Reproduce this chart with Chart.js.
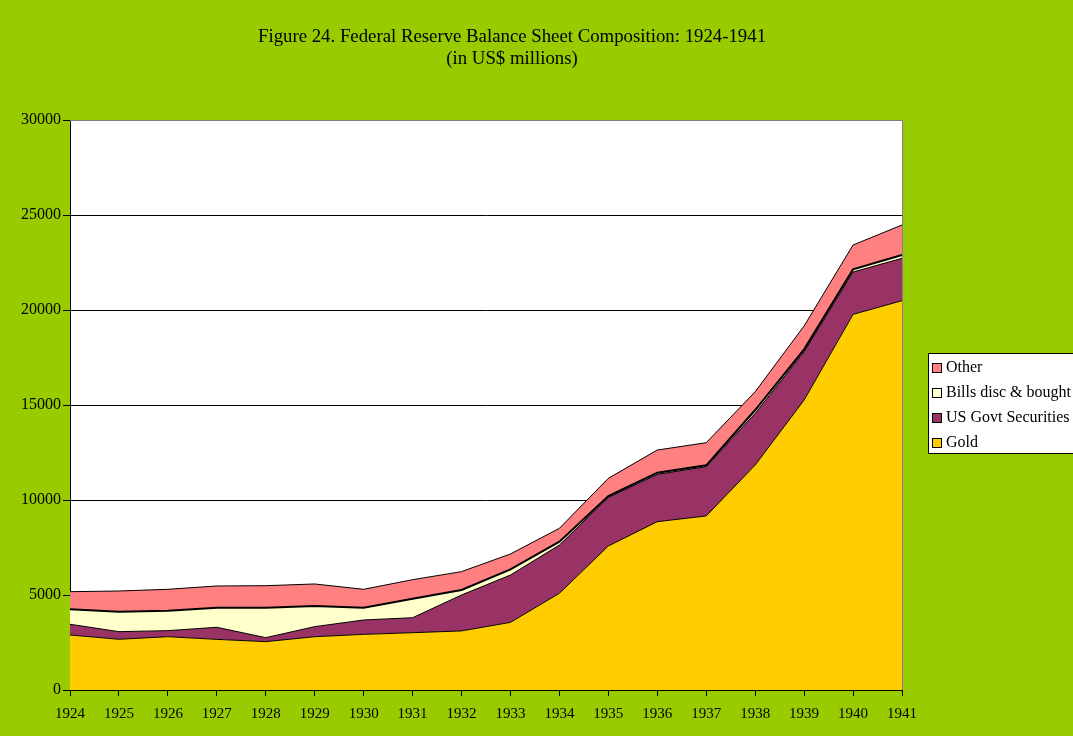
<!DOCTYPE html>
<html>
<head>
<meta charset="utf-8">
<script src="https://cdn.jsdelivr.net/npm/chart.js@4.4.1/dist/chart.umd.min.js"></script>
<style>
html, body { margin: 0; padding: 0; background: #99cc00; }
#contenedor { width: 1073px; height: 736px; }
</style>
</head>
<body>
<div id="contenedor"><canvas id="myChart" width="1073" height="736"></canvas></div>
<script>
// Datos (millones de US$)
var anios = ['1924', '1925', '1926', '1927', '1928', '1929', '1930', '1931', '1932',
             '1933', '1934', '1935', '1936', '1937', '1938', '1939', '1940', '1941'];
var oro = [2895, 2670, 2805, 2665, 2545, 2805, 2930, 3015, 3110,
           3560, 5090, 7580, 8860, 9160, 11840, 15260, 19770, 20490];
var bonosGobierno = [565, 400, 320, 635, 210, 530, 755, 790, 1890,
                     2490, 2540, 2560, 2490, 2595, 2720, 2545, 2230, 2230];
var letras = [790, 1050, 1050, 1035, 1580, 1085, 650, 1000, 265,
              300, 175, 70, 90, 70, 175, 125, 140, 175];
var otros = [925, 1090, 1125, 1140, 1155, 1160, 965, 1000, 965,
             810, 705, 930, 1190, 1190, 965, 1230, 1280, 1580];
var ticksY = [0, 5000, 10000, 15000, 20000, 25000, 30000];

var fuente = '"Liberation Serif", "Times New Roman", serif';

// Fondo verde, área del gráfico blanca y borde gris
var fondoPlugin = {
    id: 'fondo',
    beforeDraw: function (chart) {
        var ctx = chart.ctx;
        var a = chart.chartArea;
        ctx.save();
        ctx.fillStyle = '#99cc00';
        ctx.fillRect(0, 0, chart.width, chart.height);
        ctx.fillStyle = '#ffffff';
        ctx.fillRect(a.left, a.top, a.right - a.left, a.bottom - a.top);
        ctx.restore();
    },
    afterDatasetsDraw: function (chart) {
        var ctx = chart.ctx;
        var a = chart.chartArea;
        ctx.save();
        ctx.strokeStyle = '#808080';
        ctx.lineWidth = 1;
        ctx.beginPath();
        ctx.moveTo(a.left, a.top + 0.5);
        ctx.lineTo(a.right + 0.5, a.top + 0.5);
        ctx.lineTo(a.right + 0.5, a.bottom);
        ctx.stroke();
        ctx.restore();
    }
};

// Título y leyenda dibujados a mano
var textosPlugin = {
    id: 'textos',
    afterDraw: function (chart) {
        var ctx = chart.ctx;
        ctx.save();
        ctx.fillStyle = '#000000';
        ctx.font = '18.8px ' + fuente;
        ctx.textAlign = 'center';
        ctx.textBaseline = 'middle';
        ctx.fillText('Figure 24. Federal Reserve Balance Sheet Composition: 1924-1941', 512, 37);
        ctx.fillText('(in US$ millions)', 512, 59);

        // Leyenda
        var x = 928, y = 353, w = 147, h = 100;
        ctx.fillStyle = '#ffffff';
        ctx.fillRect(x, y, w, h);
        ctx.strokeStyle = '#000000';
        ctx.lineWidth = 1;
        ctx.strokeRect(x + 0.5, y + 0.5, w, h);
        ctx.font = '16px ' + fuente;
        ctx.textAlign = 'left';
        var ds = chart.data.datasets;
        for (var i = ds.length - 1, n = 0; i >= 0; i--, n++) {
            var yy = 368 + n * 25;
            ctx.fillStyle = ds[i].backgroundColor;
            ctx.fillRect(933, yy - 4, 8, 8);
            ctx.strokeStyle = '#000000';
            ctx.strokeRect(932.5, yy - 4.5, 9, 9);
            ctx.fillStyle = '#000000';
            ctx.fillText(ds[i].label, 946, yy);
        }
        ctx.restore();
    }
};

function serie(etiqueta, datos, color, relleno, grosor) {
    return {
        label: etiqueta,
        data: datos,
        backgroundColor: color,
        borderColor: '#000000',
        borderWidth: grosor,
        fill: relleno,
        pointRadius: 0,
        tension: 0
    };
}

var ctx = document.getElementById('myChart').getContext('2d');
var myChart = new Chart(ctx, {
    type: 'line',
    data: {
        labels: anios,
        datasets: [
            serie('Gold', oro, '#ffcc00', 'origin', 1),
            serie('US Govt Securities', bonosGobierno, '#993366', '-1', 1),
            serie('Bills disc & bought', letras, '#ffffcc', '-1', 2),
            serie('Other', otros, '#ff8080', '-1', 1)
        ]
    },
    options: {
        responsive: false,
        animation: false,
        layout: { padding: { left: 0, top: 120, right: 171, bottom: 0 } },
        plugins: {
            legend: { display: false },
            title: { display: false },
            tooltip: { enabled: false }
        },
        scales: {
            x: {
                offset: false,
                afterFit: function (scale) { scale.height = 46; },
                grid: { drawOnChartArea: false, color: '#000000', tickLength: 6 },
                border: { color: '#000000', width: 1 },
                ticks: { color: '#000000', font: { family: fuente, size: 15 }, padding: 9, maxRotation: 0, autoSkip: false }
            },
            y: {
                stacked: true,
                min: 0,
                max: 30000,
                afterFit: function (scale) { scale.width = 70; },
                afterBuildTicks: function (scale) {
                    scale.ticks = ticksY.map(function (v) { return { value: v }; });
                },
                grid: { color: '#000000', tickLength: 7 },
                border: { color: '#000000', width: 1 },
                ticks: {
                    color: '#000000',
                    font: { family: fuente, size: 16 },
                    padding: 2,
                    callback: function (valor) { return String(valor); }
                }
            }
        }
    },
    plugins: [fondoPlugin, textosPlugin]
});
</script>
</body>
</html>
